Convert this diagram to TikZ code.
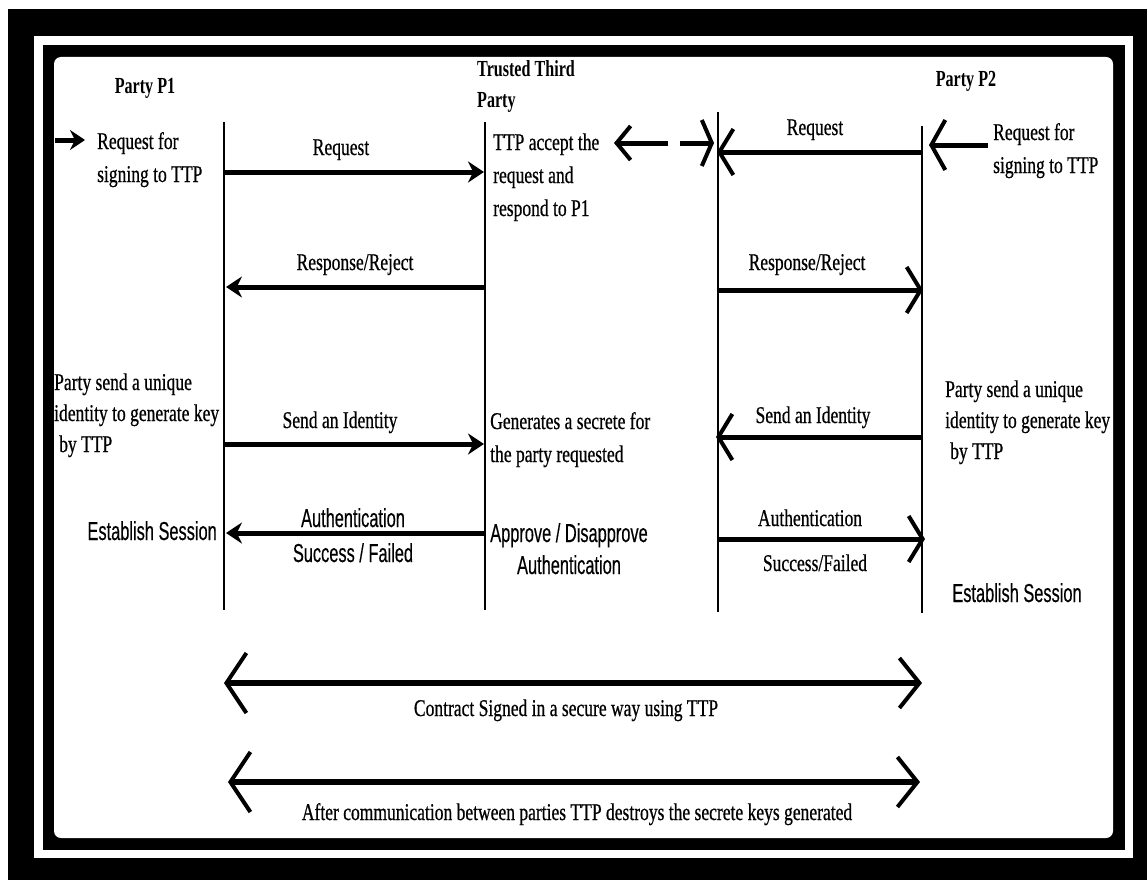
\documentclass[tikz,border=0pt]{standalone}
\usepackage{fontspec}
\usetikzlibrary{arrows.meta}
\newfontfamily\fserif[FakeStretch=0.73,FakeBold=0.6]{Liberation Serif}
\newfontfamily\fhead[FakeStretch=0.70]{Liberation Serif}
\newfontfamily\fsans[FakeStretch=0.63,FakeBold=0.3]{Liberation Sans}
\tikzset{
  tser/.style={font=\fserif\fontsize{24}{33}\selectfont, inner sep=0pt},
  tsertight/.style={font=\fserif\fontsize{24}{31}\selectfont, inner sep=0pt},
  thead/.style={font=\fhead\bfseries\fontsize{23}{31}\selectfont, inner sep=0pt, align=left},
  tsans/.style={font=\fsans\fontsize{26}{35}\selectfont, inner sep=0pt},
  life/.style={line width=1.6pt},
  msg/.style={line width=5pt, -{Stealth[length=16pt,width=21pt]}},
  barb/.style={line width=5pt, -{Straight Barb[length=14pt,width=46pt,line width=4pt]}},
  dbl/.style={line width=6pt, {Straight Barb[length=20pt,width=60pt,line width=4pt]}-{Straight Barb[length=20pt,width=50pt,line width=4pt]}}
}
\begin{document}
\begin{tikzpicture}[x=1pt,y=-1pt]
\useasboundingbox (0,0) rectangle (1147,880);
% frame
\fill[black] (8,9) rectangle (1147,880);
\fill[white] (34,36) rectangle (1133,858);
\fill[black] (43,45) rectangle (1125,850);
\fill[white, rounded corners=7pt] (54,57) rectangle (1113,838);

% lifelines
\coordinate (P1t) at (224,122); \coordinate (P1b) at (224,610);
\coordinate (Tt) at (485,122);  \coordinate (Tb) at (485,610);
\coordinate (Ut) at (718,112);  \coordinate (Ub) at (718,612);
\coordinate (P2t) at (922,126); \coordinate (P2b) at (922,613);
\draw[life] (P1t) -- (P1b);
\draw[life] (Tt) -- (Tb);
\draw[life] (Ut) -- (Ub);
\draw[life] (P2t) -- (P2b);

% headers
\node[thead, anchor=base] (hp1) at (145,94) {Party P1};
\node[thead, anchor=base west] (http) at (477,108) {Trusted Third\\Party};
\node[thead, anchor=base] (hp2) at (966,87) {Party P2};

% top-left incoming
\coordinate (in1a) at (55,140); \coordinate (in1b) at (85,140);
\draw[line width=5pt, -{Stealth[length=15pt,width=20pt]}] (in1a) -- (in1b);
\node[tser, anchor=base west, align=left] (rq1) at (97,182) {Request for\\signing to TTP};

% top-right incoming
\coordinate (in2a) at (988,145); \coordinate (in2b) at (929,145);
\draw[line width=5pt, -{Straight Barb[length=14pt,width=50pt,line width=4pt]}] (in2a) -- (in2b);
\node[tser, anchor=base west, align=left] (rq2) at (993,173) {Request for\\signing to TTP};

% request P1 -> TTP
\coordinate (r1a) at (224,172); \coordinate (r1b) at (484,172);
\draw[msg] (r1a) -- (r1b);
\node[tser, anchor=base] (lr1) at (341,155) {Request};
\node[tser, anchor=base west, align=left] (acc) at (493,216) {TTP accept the\\request and\\respond to P1};

% broken double arrow
\coordinate (b1a) at (668,143); \coordinate (b1b) at (614,143);
\coordinate (b2a) at (680,143); \coordinate (b2b) at (714,143);
\draw[line width=5pt, -{Straight Barb[length=14pt,width=34pt,line width=4pt]}] (b1a) -- (b1b);
\draw[line width=5pt, -{Straight Barb[length=10pt,width=46pt,line width=4pt]}] (b2a) -- (b2b);

% request P2 -> U
\coordinate (r2a) at (922,152); \coordinate (r2b) at (717,152);
\draw[barb] (r2a) -- (r2b);
\node[tser, anchor=base] (lr2) at (815,135) {Request};

% response/reject
\coordinate (s1a) at (485,287); \coordinate (s1b) at (226,287);
\draw[msg] (s1a) -- (s1b);
\node[tser, anchor=base] (ls1) at (355,270) {Response/Reject};
\coordinate (s2a) at (718,290); \coordinate (s2b) at (923,290);
\draw[barb] (s2a) -- (s2b);
\node[tser, anchor=base] (ls2) at (807,270) {Response/Reject};

% identity
\node[tsertight, anchor=base west, align=left] (pid1) at (54,452) {Party send a unique\\identity to generate key\\\hspace{5pt}by TTP};
\coordinate (i1a) at (224,444); \coordinate (i1b) at (484,444);
\draw[msg] (i1a) -- (i1b);
\node[tser, anchor=base] (li1) at (340,428) {Send an Identity};
\node[tser, anchor=base west, align=left] (gen) at (490,462) {Generates a secrete for\\the party requested};
\coordinate (i2a) at (922,437); \coordinate (i2b) at (716,437);
\draw[barb] (i2a) -- (i2b);
\node[tser, anchor=base] (li2) at (813,423) {Send an Identity};
\node[tsertight, anchor=base west, align=left] (pid2) at (945,459) {Party send a unique\\identity to generate key\\\hspace{5pt}by TTP};

% authentication
\node[tsans, anchor=base east] (es1) at (217,540) {Establish Session};
\coordinate (a1a) at (485,533); \coordinate (a1b) at (226,533);
\draw[msg] (a1a) -- (a1b);
\node[tsans, anchor=base] (la1) at (353,527) {Authentication};
\node[tsans, anchor=base] (la1b) at (353,562) {Success / Failed};
\node[tsans, anchor=base, align=center, font=\fsans\fontsize{26}{32}\selectfont] (appr) at (569,574) {Approve / Disapprove\\Authentication};
\coordinate (a2a) at (718,539); \coordinate (a2b) at (925,539);
\draw[barb] (a2a) -- (a2b);
\node[tser, anchor=base] (la2) at (810,526) {Authentication};
\node[tser, anchor=base] (la2b) at (815,571) {Success/Failed};
\node[tsans, anchor=base] (es2) at (1017,602) {Establish Session};

% bottom double arrows
\coordinate (d1a) at (224,683); \coordinate (d1b) at (922,683);
\draw[dbl] (d1a) -- (d1b);
\node[tser, anchor=base] (ld1) at (566,716) {Contract Signed in a secure way using TTP};
\coordinate (d2a) at (228,782); \coordinate (d2b) at (920,782);
\draw[dbl] (d2a) -- (d2b);
\node[tser, anchor=base] (ld2) at (577,820) {After communication between parties TTP destroys the secrete keys generated};
\end{tikzpicture}
\end{document}
